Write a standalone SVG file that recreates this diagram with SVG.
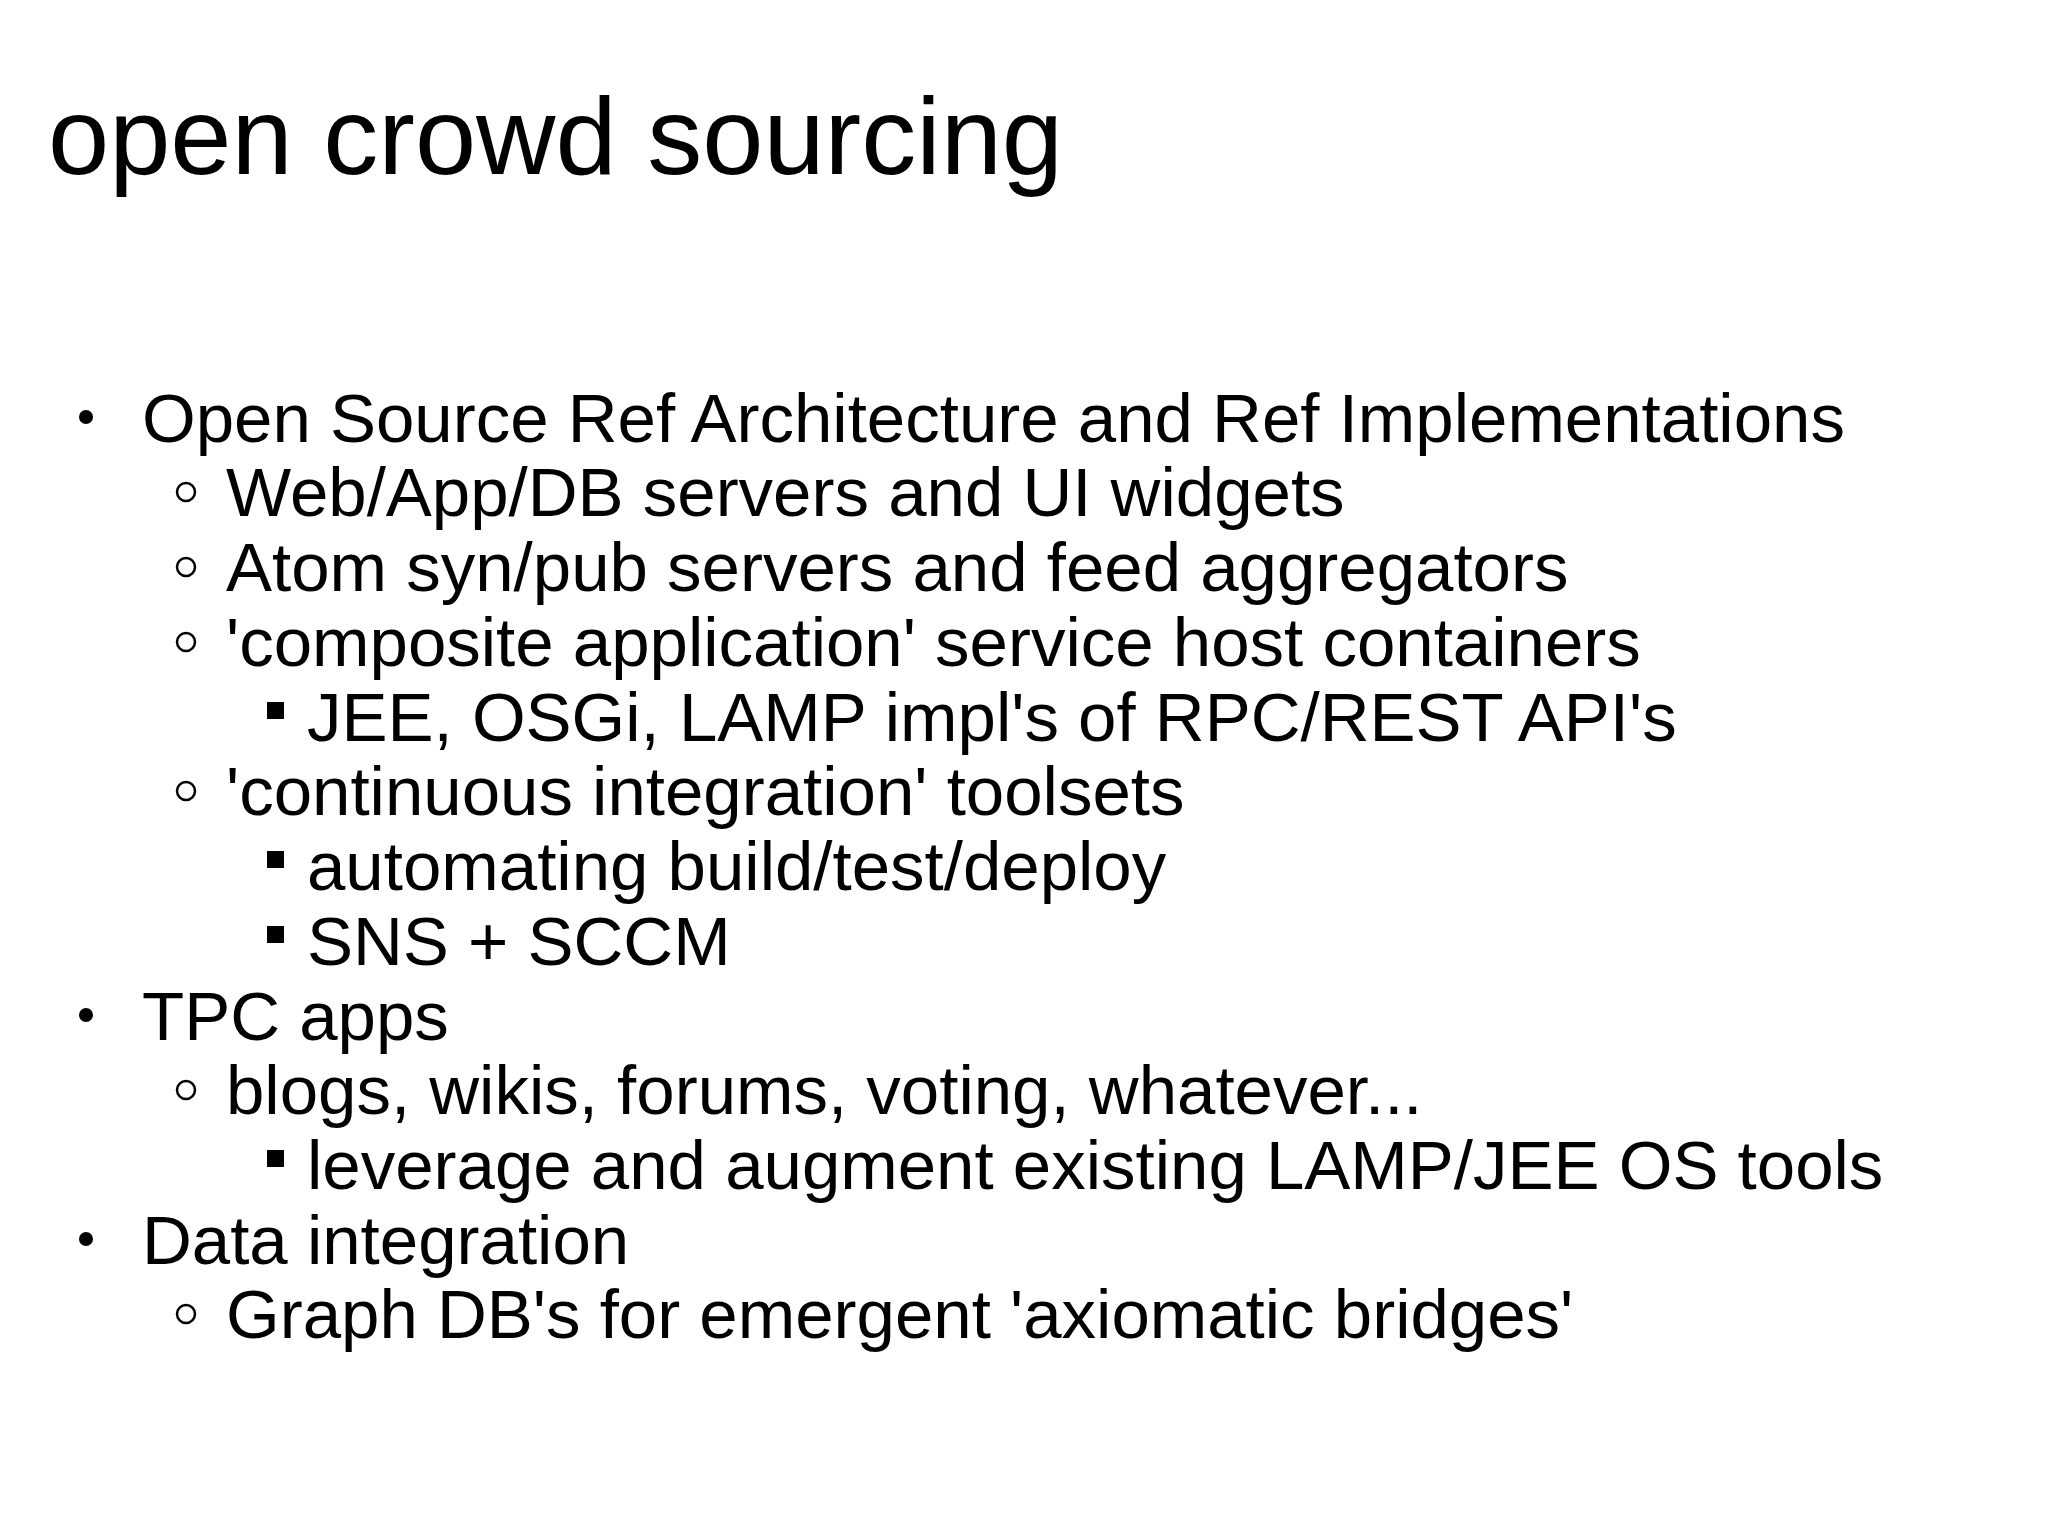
<svg xmlns="http://www.w3.org/2000/svg" width="2048" height="1536" viewBox="0 0 2048 1536">
<style>
text{font-family:"Liberation Sans",Arial,sans-serif;fill:#000}
.t{font-size:110px}
.b{font-size:69px}
.d1{fill:#000}
.d2{fill:none;stroke:#000;stroke-width:2.5}
.d3{fill:#000}
</style>
<rect width="2048" height="1536" fill="#fff"/>
<text class="t" x="48" y="174">open crowd sourcing</text>
<g id="l1"><circle class="d1" cx="86" cy="417" r="7"/><text class="b" x="142" y="442">Open Source Ref Architecture and Ref Implementations</text></g>
<g id="l2"><circle class="d2" cx="186" cy="492" r="9"/><text class="b" x="226" y="516">Web/App/DB servers and UI widgets</text></g>
<g id="l3"><circle class="d2" cx="186" cy="567" r="9"/><text class="b" x="226" y="591">Atom syn/pub servers and feed aggregators</text></g>
<g id="l4"><circle class="d2" cx="186" cy="642" r="9"/><text class="b" x="226" y="666">'composite application' service host containers</text></g>
<g id="l5"><rect class="d3" x="267" y="702" width="17" height="17"/><text class="b" x="307" y="741">JEE, OSGi, LAMP impl's of RPC/REST API's</text></g>
<g id="l6"><circle class="d2" cx="186" cy="791" r="9"/><text class="b" x="226" y="815">'continuous integration' toolsets</text></g>
<g id="l7"><rect class="d3" x="267" y="851" width="17" height="17"/><text class="b" x="307" y="890">automating build/test/deploy</text></g>
<g id="l8"><rect class="d3" x="267" y="926" width="17" height="17"/><text class="b" x="307" y="965">SNS + SCCM</text></g>
<g id="l9"><circle class="d1" cx="86" cy="1015" r="7"/><text class="b" x="142" y="1040">TPC apps</text></g>
<g id="l10"><circle class="d2" cx="186" cy="1090" r="9"/><text class="b" x="226" y="1114">blogs, wikis, forums, voting, whatever...</text></g>
<g id="l11"><rect class="d3" x="267" y="1150" width="17" height="17"/><text class="b" x="307" y="1189">leverage and augment existing LAMP/JEE OS tools</text></g>
<g id="l12"><circle class="d1" cx="86" cy="1239" r="7"/><text class="b" x="142" y="1264">Data integration</text></g>
<g id="l13"><circle class="d2" cx="186" cy="1314" r="9"/><text class="b" x="226" y="1338">Graph DB's for emergent 'axiomatic bridges'</text></g>
</svg>
